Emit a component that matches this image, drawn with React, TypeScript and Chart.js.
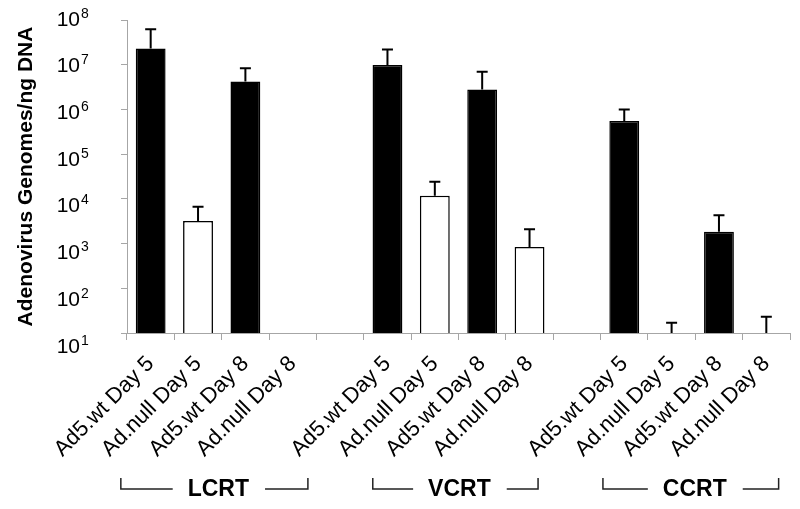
import React, { useEffect, useRef } from 'react';
import { Chart, registerables } from 'chart.js';

Chart.register(...registerables);

const categories = [
  'Ad5.wt Day 5', 'Ad.null Day 5', 'Ad5.wt Day 8', 'Ad.null Day 8', '',
  'Ad5.wt Day 5', 'Ad.null Day 5', 'Ad5.wt Day 8', 'Ad.null Day 8', '',
  'Ad5.wt Day 5', 'Ad.null Day 5', 'Ad5.wt Day 8', 'Ad.null Day 8',
];
const genomeValues: (number | null)[] = [
  2.3e7, 3.2e3, 4.2e6, null, null,
  9.8e6, 1.18e4, 2.8e6, 8.4e2, null,
  5.5e5, null, 1.84e3, null,
];
const errorTops: (number | null)[] = [
  6.2e7, 6.7e3, 8.3e6, null, null,
  2.2e7, 2.4e4, 7.0e6, 2.1e3, null,
  1.0e6, 17, 4.3e3, 23,
];
const yTickValues = [1e1, 1e2, 1e3, 1e4, 1e5, 1e6, 1e7, 1e8];
const groupLabels = ['LCRT', 'VCRT', 'CCRT'];
const groupFirstIndex = [0, 5, 10];
const groupLastIndex = [3, 8, 13];

const FONT = '"Liberation Sans", Arial, Helvetica, sans-serif';

const bracketStyle = {
  startOffset: [-0.63, -0.31, -0.45],
  endOffset: [0.32, 0.18, 0.26],
};

const errorBarPlugin = {
  id: 'errorBars',
  afterDatasetsDraw(chart: any) {
    const { ctx } = chart;
    const xs = chart.scales.x;
    const ys = chart.scales.y;
    ctx.save();
    ctx.strokeStyle = '#000';
    ctx.lineWidth = 2;
    errorTops.forEach((top, i) => {
      if (top == null) return;
      const base = genomeValues[i] ?? ys.min;
      const px = xs.getPixelForValue(i);
      const y0 = ys.getPixelForValue(base);
      const y1 = ys.getPixelForValue(top);
      ctx.beginPath();
      ctx.moveTo(px, y0);
      ctx.lineTo(px, y1);
      ctx.moveTo(px - 5.5, y1);
      ctx.lineTo(px + 5.5, y1);
      ctx.stroke();
    });
    ctx.restore();
  },
};

const yLabelPlugin = {
  id: 'yLabels',
  afterDraw(chart: any) {
    const { ctx } = chart;
    const ys = chart.scales.y;
    const xRight = chart.chartArea.left - 47;
    ctx.save();
    ctx.fillStyle = '#000';
    yTickValues.forEach((v) => {
      const exp = Math.round(Math.log10(v));
      const drift = -2 + 2 * (8 - exp);
      const py = ys.getPixelForValue(v) + drift;
      const baseline = py + 7.5;
      ctx.font = `21px ${FONT}`;
      ctx.textAlign = 'right';
      ctx.textBaseline = 'alphabetic';
      ctx.fillText('10', xRight, baseline);
      ctx.font = `14px ${FONT}`;
      ctx.textAlign = 'left';
      ctx.fillText(String(exp), xRight + 1, baseline - 8);
    });
    ctx.restore();
  },
};

const groupPlugin = {
  id: 'groups',
  afterDraw(chart: any) {
    const { ctx } = chart;
    const xs = chart.scales.x;
    const lineY = chart.height - 20;
    ctx.save();
    ctx.strokeStyle = '#222';
    ctx.lineWidth = 1.5;
    ctx.fillStyle = '#000';
    ctx.font = `bold 23px ${FONT}`;
    ctx.textAlign = 'center';
    ctx.textBaseline = 'middle';
    groupLabels.forEach((label, g) => {
      const x0 = xs.getPixelForValue(groupFirstIndex[g] + bracketStyle.startOffset[g]);
      const x1 = xs.getPixelForValue(groupLastIndex[g] + bracketStyle.endOffset[g]);
      const cx = (x0 + x1) / 2 + 4;
      const tw = ctx.measureText(label).width;
      ctx.beginPath();
      ctx.moveTo(x0, lineY - 11);
      ctx.lineTo(x0, lineY);
      ctx.lineTo(cx - tw / 2 - 15, lineY);
      ctx.moveTo(cx + tw / 2 + 16, lineY);
      ctx.lineTo(x1, lineY);
      ctx.lineTo(x1, lineY - 11);
      ctx.stroke();
      ctx.fillText(label, cx, lineY + 1);
    });
    ctx.restore();
  },
};

export default function App() {
  const canvasRef = useRef<HTMLCanvasElement | null>(null);

  useEffect(() => {
    document.body.style.margin = '0';
    const canvas = canvasRef.current;
    if (!canvas) return;
    const chart = new Chart(canvas, {
      type: 'bar',
      data: {
        labels: categories,
        datasets: [
          {
            data: genomeValues as any,
            backgroundColor: categories.map((c) => (c.startsWith('Ad5') ? '#000' : '#fff')),
            borderColor: '#000',
            borderWidth: 1.5,
            barPercentage: 0.63,
            categoryPercentage: 1.0,
          },
        ],
      },
      options: {
        animation: false,
        responsive: false,
        layout: { padding: { top: 20, right: 10, bottom: 0, left: 0 } },
        plugins: {
          legend: { display: false },
          tooltip: { enabled: false },
        },
        scales: {
          x: {
            type: 'category',
            grid: {
              drawOnChartArea: false,
              drawTicks: true,
              tickLength: 7,
              color: '#a6a6a6',
              offset: true,
            },
            border: { color: '#a6a6a6', width: 1 },
            ticks: {
              autoSkip: false,
              maxRotation: 45,
              minRotation: 45,
              color: '#000',
              padding: 11,
              font: { family: FONT, size: 22 },
            },
            afterFit: (scale: any) => {
              scale.height = 176;
            },
          },
          y: {
            type: 'logarithmic',
            min: 10,
            max: 1e8,
            afterBuildTicks: (scale: any) => {
              scale.ticks = yTickValues.map((v) => ({ value: v }));
            },
            grid: {
              drawOnChartArea: false,
              drawTicks: true,
              tickLength: 6,
              color: '#a6a6a6',
            },
            border: { color: '#a6a6a6', width: 1 },
            ticks: { display: false },
            title: {
              display: true,
              text: 'Adenovirus Genomes/ng DNA',
              color: '#000',
              font: { family: FONT, size: 21, weight: 'bold' },
              padding: { top: 14, bottom: 0 },
            },
            afterFit: (scale: any) => {
              scale.width = 127;
            },
          },
        },
      },
      plugins: [errorBarPlugin, yLabelPlugin, groupPlugin],
    });
    return () => chart.destroy();
  }, []);

  return (
    <div style={{ width: 800, height: 509 }}>
      <canvas ref={canvasRef} width={800} height={509} />
    </div>
  );
}
